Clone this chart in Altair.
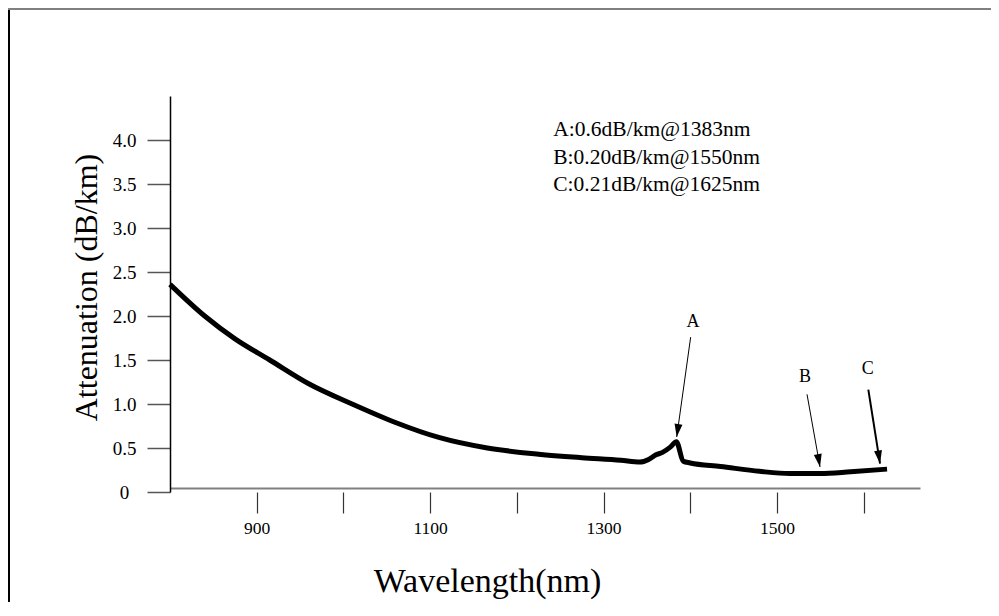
import altair as alt
import pandas as pd

# ---- data ----
wavelength = [800, 840, 875, 915, 960, 1010, 1060, 1110, 1166, 1225, 1275, 1320,
              1342, 1352, 1360, 1368, 1377, 1384, 1392, 1400,
              1435, 1480, 1515, 1550, 1585, 1627]
attenuation = [2.36, 2.00, 1.74, 1.50, 1.23, 1.00, 0.79, 0.62, 0.50, 0.43, 0.39, 0.36,
               0.34, 0.37, 0.42, 0.45, 0.51, 0.57, 0.35, 0.33,
               0.29, 0.235, 0.21, 0.21, 0.23, 0.26]

y_ticks = [0, 0.5, 1.0, 1.5, 2.0, 2.5, 3.0, 3.5, 4.0]
x_ticks = [900, 1000, 1100, 1200, 1300, 1400, 1500, 1600]

note_lines = ["A:0.6dB/km@1383nm", "B:0.20dB/km@1550nm", "C:0.21dB/km@1625nm"]
note_x = [1242, 1242, 1242]
note_y = [4.11, 3.80, 3.49]

arrow_names = ["A", "B", "C"]
arrow_x0 = [1400.5, 1534.7, 1605.4]
arrow_y0 = [1.76, 1.11, 1.164]
arrow_x1 = [1384.4, 1549.7, 1618.9]
arrow_y1 = [0.625, 0.284, 0.323]
arrow_angle = [8, 350, 351]
arrow_width = [1, 1, 2]
label_x = [1403.2, 1532.4, 1604.7]
label_y = [1.93, 1.307, 1.394]

FONT = "Liberation Serif"
W, H = 750, 396

curve = pd.DataFrame({"wl": wavelength, "att": attenuation})
notes = pd.DataFrame({"wl": note_x, "att": note_y, "txt": note_lines})
arrows = pd.DataFrame({"wl": arrow_x0, "att": arrow_y0, "wl2": arrow_x1, "att2": arrow_y1,
                       "ang": arrow_angle, "sw": arrow_width})
labels = pd.DataFrame({"wl": label_x, "att": label_y, "txt": arrow_names})

xscale = alt.Scale(domain=[800, 1665], nice=False, zero=False)
yscale = alt.Scale(domain=[0, 4.5], nice=False, zero=False)

x_main_axis = alt.Axis(
    orient="bottom", values=x_ticks,
    labelExpr="datum.value % 200 == 100 ? '' + datum.value : ''",
    domain=False, ticks=True, tickSize=21, tickColor="#333", tickWidth=1.2,
    labelFont=FONT, labelFontSize=17.5, labelColor="#000", labelPadding=15,
    labelBaseline="middle", labelFlush=False, labelOverlap=False,
    title="Wavelength(nm)", titleFont=FONT, titleFontSize=34, titleFontWeight="normal",
    titleColor="#000", titleX=317, titleY=89, titleBaseline="middle", titleAlign="center",
    grid=False,
)
x_line_axis = alt.Axis(
    orient="bottom", offset=-4, domain=True, domainColor="#808080", domainWidth=2,
    ticks=False, labels=False, title=None, grid=False,
)
y_axis = alt.Axis(
    orient="left", values=y_ticks,
    labelExpr="datum.value == 0 ? '0' : format(datum.value, '.1f')",
    domain=True, domainColor="#000", domainWidth=1.5,
    ticks=True, tickSize=23, tickColor="#555", tickWidth=1.5,
    labelFont=FONT, labelFontSize=19, labelColor="#000", labelAlign="center",
    labelPadding=23, labelBaseline="middle", labelFlush=False, labelOverlap=False,
    title="Attenuation (dB/km)", titleFont=FONT, titleFontSize=32, titleFontWeight="normal",
    titleColor="#000", titleX=-84, titleY=191, titleAngle=270, titleBaseline="middle",
    titleAlign="center", grid=False,
)

line = alt.Chart(curve).mark_line(
    color="black", strokeWidth=5, interpolate="monotone", strokeCap="butt", strokeJoin="round"
).encode(
    x=alt.X("wl:Q", scale=xscale, axis=x_main_axis),
    y=alt.Y("att:Q", scale=yscale, axis=y_axis),
)

shafts = alt.Chart(arrows).mark_rule(color="black").encode(
    x=alt.X("wl:Q", scale=xscale, axis=x_line_axis),
    y=alt.Y("att:Q", scale=yscale, axis=None),
    x2="wl2:Q", y2="att2:Q",
    strokeWidth=alt.StrokeWidth("sw:Q", scale=None, legend=None),
)

heads = alt.Chart(arrows).mark_point(
    shape="M-1.33,-4.33 L1.33,-4.33 L0,0 Z", size=36, filled=True,
    color="black", opacity=1, strokeWidth=0,
).encode(
    x=alt.X("wl2:Q", scale=xscale, axis=None),
    y=alt.Y("att2:Q", scale=yscale, axis=None),
    angle=alt.Angle("ang:Q", scale=None),
)

note_text = alt.Chart(notes).mark_text(
    align="left", baseline="middle", font=FONT, fontSize=21.5, color="black"
).encode(
    x=alt.X("wl:Q", scale=xscale, axis=None),
    y=alt.Y("att:Q", scale=yscale, axis=None),
    text="txt:N",
)

label_text = alt.Chart(labels).mark_text(
    align="center", baseline="middle", font=FONT, fontSize=18, color="black"
).encode(
    x=alt.X("wl:Q", scale=xscale, axis=None),
    y=alt.Y("att:Q", scale=yscale, axis=None),
    text="txt:N",
)

one = pd.DataFrame({"k": [0]})
border_left = alt.Chart(one).mark_rule(color="black", strokeWidth=2).encode(
    x=alt.value(-161), y=alt.value(-88), y2=alt.value(H + 110)
)
border_top = alt.Chart(one).mark_rule(color="#808080", strokeWidth=2).encode(
    y=alt.value(-87), x=alt.value(-162), x2=alt.value(W + 71)
)

chart = alt.layer(
    line, shafts, heads, note_text, label_text, border_left, border_top
).resolve_axis(x="independent", y="independent").properties(
    width=W, height=H,
    autosize=alt.AutoSizeParams(type="none"),
    padding={"left": 162, "top": 88, "right": 71, "bottom": 110},
    background="white",
).configure_view(stroke=None)

chart.save("out.html", embed_options={"renderer": "svg", "actions": False})
